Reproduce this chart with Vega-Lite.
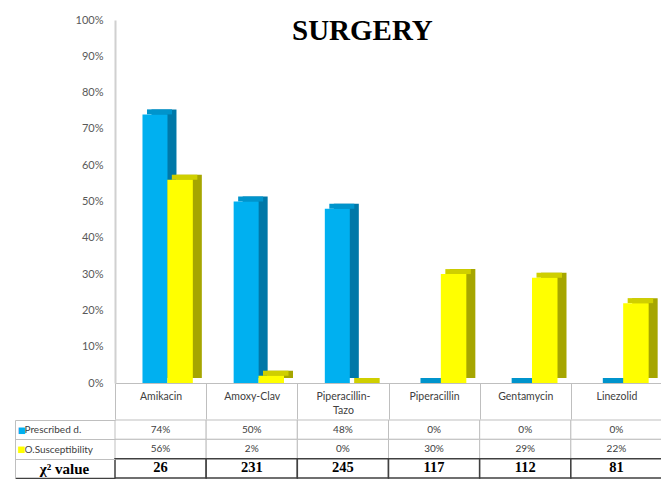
{
  "$schema": "https://vega.github.io/schema/vega-lite/v6.json",
  "background": "white",
  "padding": {"left": 14, "top": 14, "right": 0, "bottom": 0},
  "config": {"view": {"stroke": null}, "font": "Lato"},
  "datasets": {
    "surgery": [
      {"drug": "Amikacin", "prescribed": 0.74, "susceptibility": 0.56, "chi2": 26},
      {"drug": "Amoxy-Clav", "prescribed": 0.50, "susceptibility": 0.02, "chi2": 231},
      {"drug": "Piperacillin-Tazo", "prescribed": 0.48, "susceptibility": 0.00, "chi2": 245},
      {"drug": "Piperacillin", "prescribed": 0.00, "susceptibility": 0.30, "chi2": 117},
      {"drug": "Gentamycin", "prescribed": 0.00, "susceptibility": 0.29, "chi2": 112},
      {"drug": "Linezolid", "prescribed": 0.00, "susceptibility": 0.22, "chi2": 81}
    ]
  },
  "data": {"name": "surgery"},
  "spacing": -5,
  "resolve": {"scale": {"x": "independent", "y": "independent"}},
  "vconcat": [
    {
      "width": 547,
      "height": 363,
      "title": {
        "text": "SURGERY",
        "font": "Liberation Serif",
        "fontSize": 29,
        "fontWeight": "bold",
        "color": "#000000",
        "anchor": "start",
        "frame": "group",
        "offset": 0,
        "dx": 177,
        "dy": 32
      },
      "transform": [{"fold": ["prescribed", "susceptibility"], "as": ["series", "value"]}],
      "encoding": {
        "x": {
          "field": "drug",
          "type": "nominal",
          "sort": null,
          "scale": {"paddingInner": 0, "paddingOuter": 0},
          "axis": {
            "title": null,
            "orient": "bottom",
            "domainColor": "#BFBFBF",
            "domainWidth": 1,
            "ticks": true,
            "tickBand": "extent",
            "tickSize": 36,
            "tickColor": "#BFBFBF",
            "tickWidth": 1,
            "labelAngle": 0,
            "labelPadding": -28,
            "labelFont": "Lato",
            "labelFontSize": 10.5,
            "labelColor": "#404040",
            "labelOverlap": false,
            "labelLimit": 0,
            "labelLineHeight": 14,
            "labelExpr": "datum.label == 'Piperacillin-Tazo' ? ['Piperacillin-', 'Tazo'] : datum.label"
          }
        },
        "y": {
          "field": "value",
          "type": "quantitative",
          "scale": {"domain": [0, 1]},
          "axis": {
            "title": null,
            "format": ".0%",
            "values": [0, 0.1, 0.2, 0.3, 0.4, 0.5, 0.6, 0.7, 0.8, 0.9, 1],
            "grid": false,
            "domainColor": "#D0D0D0",
            "domainWidth": 2,
            "ticks": false,
            "labelPadding": 12,
            "labelFont": "Lato",
            "labelFontSize": 11,
            "labelColor": "#595959"
          }
        }
      },
      "layer": [
        {
          "transform": [{"filter": "datum.series === 'prescribed'"}],
          "mark": {"type": "bar", "width": 25, "xOffset": 3.4, "yOffset": -5, "color": "#0078A8"}
        },
        {
          "transform": [{"filter": "datum.series === 'prescribed'"}],
          "mark": {"type": "bar", "width": 25, "xOffset": -1.1, "yOffset": -5, "color": "#0094CC"},
          "encoding": {"y2": {"field": "value"}}
        },
        {
          "transform": [{"filter": "datum.series === 'prescribed'"}],
          "mark": {"type": "bar", "width": 25, "xOffset": -5.6, "color": "#00B0F0"}
        },
        {
          "transform": [{"filter": "datum.series === 'susceptibility'"}],
          "mark": {"type": "bar", "width": 25.5, "xOffset": 28.5, "yOffset": -5, "color": "#A6A600"}
        },
        {
          "transform": [{"filter": "datum.series === 'susceptibility'"}],
          "mark": {"type": "bar", "width": 25.5, "xOffset": 24, "yOffset": -5, "color": "#CFCF00"},
          "encoding": {"y2": {"field": "value"}}
        },
        {
          "transform": [{"filter": "datum.series === 'susceptibility'"}],
          "mark": {"type": "bar", "width": 25.5, "xOffset": 19.5, "color": "#FFFF00"}
        }
      ]
    },
    {
      "width": 547,
      "height": 58,
      "transform": [{"fold": ["prescribed", "susceptibility", "chi2"], "as": ["row", "value"]}],
      "encoding": {
        "x": {
          "field": "drug",
          "type": "nominal",
          "sort": null,
          "scale": {"paddingInner": 0, "paddingOuter": 0},
          "axis": null
        }
      },
      "layer": [
        {
          "transform": [{"filter": "datum.row !== 'chi2'"}],
          "mark": {"type": "rect", "fill": "white", "stroke": "#BFBFBF", "strokeWidth": 1},
          "encoding": {
            "y": {
              "field": "row",
              "type": "nominal",
              "scale": {"domain": ["prescribed", "susceptibility", "chi2"], "paddingInner": 0, "paddingOuter": 0},
              "axis": {
                "orient": "left",
                "title": null,
                "domain": false,
                "ticks": true,
                "tickBand": "extent",
                "tickSize": 100,
                "tickColor": {"condition": {"test": "datum.value === 'chi2'", "value": "#404040"}, "value": "#BFBFBF"},
                "tickWidth": {"condition": {"test": "datum.value === 'chi2'", "value": 1.5}, "value": 1},
                "labelExpr": "datum.value === 'prescribed' ? 'Prescribed d.' : datum.value === 'susceptibility' ? 'O.Susceptibility' : datum.value === 'chi2' ? 'χ² value' : ''",
                "labelAlign": {"condition": {"test": "datum.value === 'chi2'", "value": "center"}, "value": "left"},
                "labelPadding": {"condition": {"test": "datum.value === 'chi2'", "value": -49}, "value": -9},
                "labelFont": {"condition": {"test": "datum.value === 'chi2'", "value": "Liberation Serif"}, "value": "Lato"},
                "labelFontSize": {"condition": {"test": "datum.value === 'chi2'", "value": 15}, "value": 10},
                "labelFontWeight": {"condition": {"test": "datum.value === 'chi2'", "value": "bold"}, "value": "normal"},
                "labelColor": {"condition": {"test": "datum.value === 'chi2'", "value": "#000000"}, "value": "#404040"}
              }
            }
          }
        },
        {
          "transform": [{"filter": "datum.row === 'chi2'"}],
          "mark": {"type": "rect", "fill": "white", "stroke": "#404040", "strokeWidth": 1.5},
          "encoding": {
            "y": {
              "field": "row",
              "type": "nominal",
              "axis": {
                "orient": "left",
                "offset": 100,
                "title": null,
                "domain": true,
                "domainColor": "#BFBFBF",
                "domainWidth": 1,
                "ticks": false,
                "labelExpr": "datum.value === 'prescribed' || datum.value === 'susceptibility' ? '■' : ''",
                "labelColor": {"condition": {"test": "datum.value === 'prescribed'", "value": "#00B0F0"}, "value": "#FFFF00"},
                "labelAlign": "left",
                "labelPadding": -2,
                "labelFont": "DejaVu Sans",
                "labelFontSize": 8.5
              }
            }
          }
        },
        {
          "transform": [{"filter": "datum.row !== 'chi2'"}],
          "mark": {"type": "text", "font": "Lato", "fontSize": 10, "color": "#404040"},
          "encoding": {
            "y": {"field": "row", "type": "nominal", "axis": null},
            "text": {"field": "value", "type": "quantitative", "format": ".0%"}
          }
        },
        {
          "transform": [{"filter": "datum.row === 'chi2'"}],
          "mark": {"type": "text", "font": "Liberation Serif", "fontSize": 14.5, "fontWeight": "bold", "color": "#000000"},
          "encoding": {
            "y": {"field": "row", "type": "nominal", "axis": null},
            "text": {"field": "value", "type": "quantitative"}
          }
        }
      ],
      "resolve": {"axis": {"y": "independent"}}
    }
  ]
}
